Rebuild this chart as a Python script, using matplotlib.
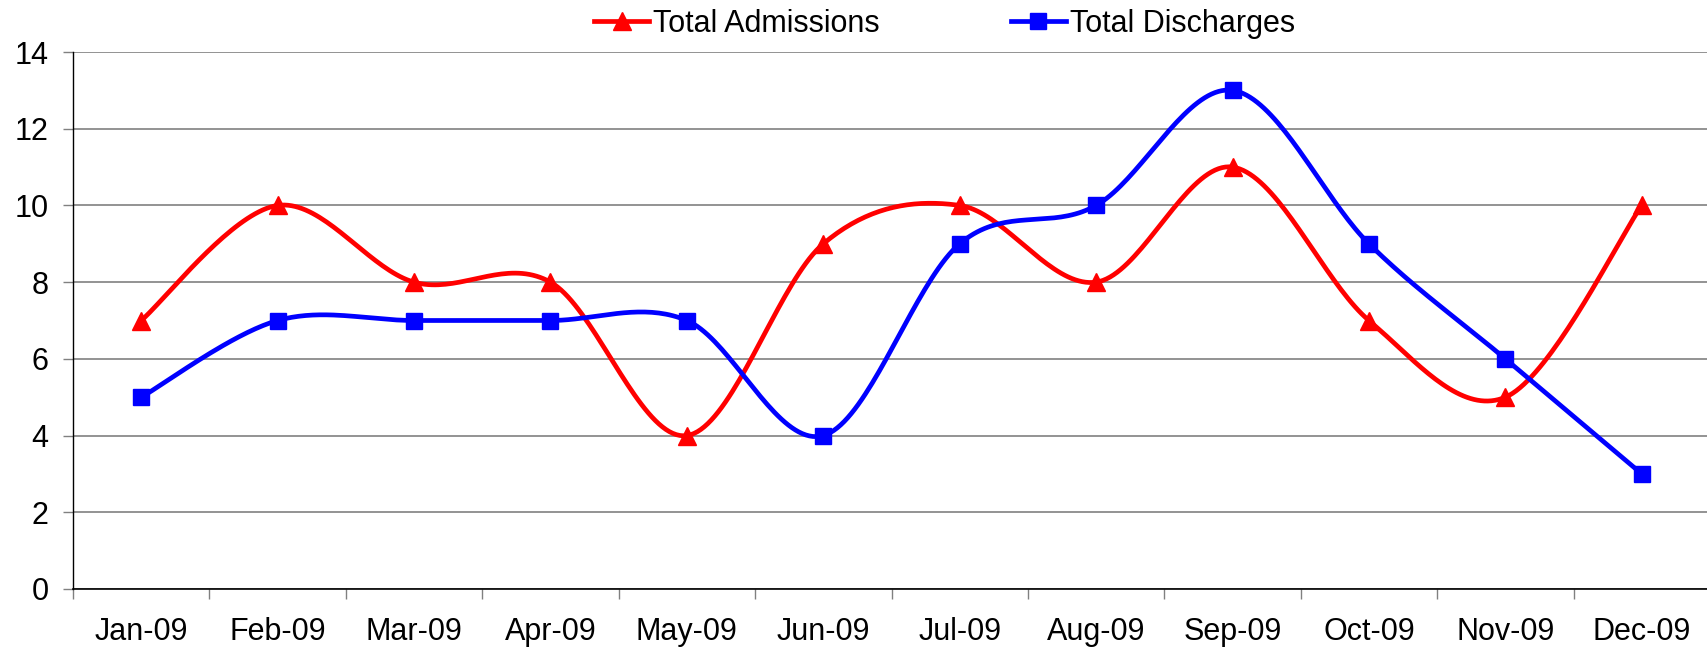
import numpy as np
import matplotlib.pyplot as plt
from matplotlib.lines import Line2D

plt.rcParams['font.family'] = ['Liberation Sans', 'DejaVu Sans']

months = ['Jan-09', 'Feb-09', 'Mar-09', 'Apr-09', 'May-09', 'Jun-09',
          'Jul-09', 'Aug-09', 'Sep-09', 'Oct-09', 'Nov-09', 'Dec-09']
admissions = [7, 10, 8, 8, 4, 9, 10, 8, 11, 7, 5, 10]
discharges = [5, 7, 7, 7, 7, 4, 9, 10, 13, 9, 6, 3]


def smooth(x, y, n=40):
    # excel-like smoothed line: cubic bezier with catmull-rom control points
    x = np.asarray(x, float)
    y = np.asarray(y, float)
    px = np.concatenate([[x[0]], x, [x[-1]]])
    py = np.concatenate([[y[0]], y, [y[-1]]])
    t = np.linspace(0, 1, n)[:, None]
    xs, ys = [], []
    for i in range(1, len(x)):
        p0 = np.array([px[i - 1], py[i - 1]])
        p1 = np.array([px[i], py[i]])
        p2 = np.array([px[i + 1], py[i + 1]])
        p3 = np.array([px[i + 2], py[i + 2]])
        c1 = p1 + (p2 - p0) / 6
        c2 = p2 - (p3 - p1) / 6
        b = ((1 - t) ** 3) * p1 + 3 * ((1 - t) ** 2) * t * c1 + 3 * (1 - t) * t ** 2 * c2 + t ** 3 * p2
        xs.append(b[:, 0])
        ys.append(b[:, 1])
    return np.concatenate(xs), np.concatenate(ys)


x = np.arange(len(months))

fig = plt.figure(figsize=(17.08, 6.56), dpi=100)
ax = fig.add_axes([73 / 1708, (656 - 589) / 656, (1710 - 73) / 1708, (589 - 52) / 656])

sx, sy = smooth(x, admissions)
ax.plot(sx, sy, color='#ff0000', lw=3.4, zorder=3, solid_capstyle='round')
ax.plot(x, admissions, ls='none', marker='^', ms=13.5, color='#ff0000', zorder=4)

sx, sy = smooth(x, discharges)
ax.plot(sx, sy, color='#0000ff', lw=3.4, zorder=3, solid_capstyle='round')
ax.plot(x, discharges, ls='none', marker='s', ms=12, color='#0000ff', zorder=4)

ax.set_xlim(-0.5, len(months) - 0.5)
ax.set_ylim(0, 14)
ax.set_yticks(range(0, 15, 2))
ax.yaxis.grid(True, color='#808080', lw=1.2)
ax.set_axisbelow(True)

ax.set_xticks(np.arange(-0.5, len(months), 1))
ax.set_xticklabels([])
ax.set_xticks(x, minor=True)
ax.set_xticklabels(months, minor=True)
ax.tick_params(axis='x', which='major', length=7, color='#808080', width=1)
ax.tick_params(axis='x', which='minor', length=0, pad=20, labelsize=22)
ax.tick_params(axis='y', length=7, color='#808080', width=1, pad=10.5, labelsize=22)

for s in ['top', 'right']:
    ax.spines[s].set_visible(False)
ax.spines['left'].set_linewidth(1)
ax.spines['bottom'].set_linewidth(1.2)

handles = [Line2D([], [], color='#ff0000', lw=3.4, marker='^', ms=13.5),
           Line2D([], [], color='#0000ff', lw=3.4, marker='s', ms=12)]
fig.legend(handles, ['Total Admissions', 'Total Discharges'], loc='center',
           bbox_to_anchor=(0.553, 1 - 24 / 656), ncol=2, frameon=False,
           fontsize=22, handlelength=1.8, handletextpad=0.12, columnspacing=4.3)

fig.savefig('out.png', dpi=100)
